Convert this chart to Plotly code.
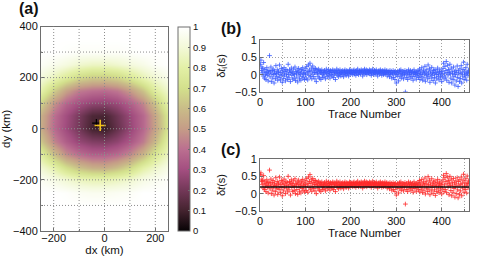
import plotly.graph_objects as go

# ---------------- data ----------------
# misfit map (panel a), read on a 50 km grid
grid_x = [-250, -200, -150, -100, -50, 0, 50, 100, 150, 200, 250]
grid_y = [400, 350, 300, 250, 200, 150, 100, 50, 0, -50, -100, -150, -200, -250, -300, -350, -400]
misfit = [
    [1.00, 1.00, 1.00, 1.00, 1.00, 1.00, 1.00, 1.00, 1.00, 1.00, 1.00],
    [1.00, 1.00, 1.00, 1.00, 1.00, 1.00, 1.00, 1.00, 1.00, 1.00, 1.00],
    [1.00, 1.00, 0.99, 0.98, 0.98, 0.98, 0.98, 0.99, 1.00, 1.00, 1.00],
    [0.98, 0.95, 0.92, 0.88, 0.86, 0.86, 0.88, 0.91, 0.94, 0.98, 1.00],
    [0.91, 0.84, 0.76, 0.68, 0.64, 0.64, 0.67, 0.74, 0.83, 0.89, 0.95],
    [0.81, 0.65, 0.52, 0.43, 0.40, 0.39, 0.42, 0.50, 0.62, 0.78, 0.88],
    [0.66, 0.48, 0.37, 0.30, 0.26, 0.25, 0.28, 0.35, 0.45, 0.62, 0.81],
    [0.56, 0.40, 0.30, 0.21, 0.12, 0.11, 0.19, 0.28, 0.38, 0.53, 0.74],
    [0.55, 0.39, 0.29, 0.20, 0.10, 0.08, 0.17, 0.27, 0.38, 0.52, 0.73],
    [0.63, 0.45, 0.35, 0.27, 0.23, 0.22, 0.26, 0.33, 0.43, 0.59, 0.80],
    [0.78, 0.61, 0.47, 0.40, 0.36, 0.36, 0.39, 0.46, 0.58, 0.74, 0.86],
    [0.89, 0.81, 0.70, 0.61, 0.56, 0.55, 0.60, 0.68, 0.80, 0.87, 0.94],
    [0.97, 0.93, 0.89, 0.85, 0.83, 0.83, 0.85, 0.88, 0.93, 0.96, 0.99],
    [1.00, 1.00, 0.99, 0.97, 0.96, 0.96, 0.97, 0.98, 1.00, 1.00, 1.00],
    [1.00, 1.00, 1.00, 1.00, 1.00, 1.00, 1.00, 1.00, 1.00, 1.00, 1.00],
    [1.00, 1.00, 1.00, 1.00, 1.00, 1.00, 1.00, 1.00, 1.00, 1.00, 1.00],
    [1.00, 1.00, 1.00, 1.00, 1.00, 1.00, 1.00, 1.00, 1.00, 1.00, 1.00],
]
best_black = (-32, 22)
best_yellow = (-17, 13)

ax_a_ticks = [-200, 0, 200]
ax_a_ticktext = ["\u2212200", "0", "200"]
ax_a_grid = [-200, -100, 0, 100, 200]
ay_a_ticks = [-400, -200, 0, 200, 400]
ay_a_ticktext = ["\u2212400", "\u2212200", "0", "200", "400"]
ay_a_grid = [-300, -200, -100, 0, 100, 200, 300]
cb_ticks = [0, 0.1, 0.2, 0.3, 0.4, 0.5, 0.6, 0.7, 0.8, 0.9, 1]
cb_ticktext = ["0", "0.1", "0.2", "0.3", "0.4", "0.5", "0.6", "0.7", "0.8", "0.9", "1"]

# panel b: delta t_i per trace
dt_i = [
    0.30, 0.42, 0.12, 0.22, 0.05, 0.18, -0.04, 0.35, 0.08, -0.10, 0.15, 0.00, -0.14, 0.06, 0.20, -0.02, 0.10, -0.18, 0.04, 0.12,
    0.55, -0.06, 0.08, 0.22, -0.20, 0.02, 0.12, -0.10, 0.16, 0.00, -0.24, 0.10, 0.04, -0.12, 0.26, 0.03, -0.05, 0.14, -0.16, 0.06,
    0.10, -0.08, 0.28, 0.00, -0.15, 0.07, 0.18, -0.03, -0.22, 0.13, 0.05, -0.11, 0.20, -0.01, 0.09, -0.18, 0.15, 0.02, -0.06, 0.11,
    -0.14, 0.30, 0.01, -0.09, 0.14, 0.06, -0.20, 0.10, 0.19, -0.02, 0.07, -0.13, 0.03, 0.16, -0.10, 0.00, 0.22, -0.17, 0.09, 0.04,
    -0.07, 0.13, -0.21, 0.06, 0.18, -0.01, -0.12, 0.10, 0.02, -0.16, 0.15, 0.07, -0.05, 0.20, -0.09, 0.03, 0.12, -0.14, 0.05, 0.00,
    0.17, -0.10, 0.24, 0.05, -0.15, 0.09, 0.28, -0.02, 0.13, 0.33, -0.06, 0.08, 0.19, -0.12, 0.02, 0.25, 0.11, -0.05, 0.16, 0.06,
    -0.12, 0.18, 0.06, -0.20, 0.14, 0.02, 0.10, -0.06, 0.16, 0.04, -0.10, 0.12, 0.08, -0.14, 0.06, 0.14, 0.00, -0.08, 0.10, 0.04,
    -0.04, 0.12, 0.06, -0.12, 0.08, 0.16, 0.02, -0.06, 0.10, 0.04, 0.14, -0.02, 0.08, -0.10, 0.12, 0.06, 0.00, 0.10, -0.04, 0.14,
    0.06, -0.08, 0.12, 0.02, 0.08, -0.14, 0.10, 0.04, 0.16, -0.02, 0.06, 0.12, -0.06, 0.08, 0.02, 0.14, 0.04, -0.04, 0.10, 0.06,
    0.00, 0.12, 0.08, -0.06, 0.04, 0.10, 0.14, 0.02, 0.06, -0.02, 0.12, 0.08, 0.04, 0.10, -0.04, 0.06, 0.14, 0.02, 0.08, 0.12,
    0.04, 0.10, 0.06, 0.00, 0.12, 0.08, 0.14, 0.02, 0.06, 0.10, -0.02, 0.08, 0.12, 0.04, 0.16, 0.06, 0.00, 0.10, 0.08, 0.12,
    0.02, 0.08, 0.14, 0.06, 0.10, -0.04, 0.12, 0.04, 0.08, 0.16, 0.02, 0.10, 0.06, 0.14, 0.00, 0.08, 0.12, 0.04, 0.10, 0.06,
    0.14, 0.02, 0.08, 0.12, -0.02, 0.06, 0.10, 0.16, 0.04, 0.08, 0.00, 0.12, 0.06, 0.10, 0.02, 0.14, 0.08, 0.04, -0.04, 0.10,
    0.06, 0.12, 0.02, 0.08, 0.14, 0.04, 0.10, -0.02, 0.06, 0.12, 0.08, 0.00, 0.10, 0.04, 0.14, 0.06, 0.02, 0.08, 0.12, -0.04,
    0.06, 0.10, 0.02, 0.08, -0.06, 0.12, 0.04, 0.00, 0.10, -0.10, 0.06, 0.02, 0.12, -0.08, 0.04, 0.08, -0.14, 0.10, 0.00, -0.24,
    0.06, -0.04, 0.10, 0.02, -0.18, 0.08, 0.12, -0.06, 0.04, 0.14, -0.10, 0.02, 0.08, -0.02, 0.10, -0.12, 0.06, 0.00, 0.12, -0.50,
    0.04, -0.08, 0.10, 0.02, -0.14, 0.08, 0.14, -0.04, 0.06, 0.00, 0.12, -0.10, 0.04, 0.08, -0.06, 0.10, -0.16, 0.02, 0.14, 0.06,
    -0.05, 0.07, 0.01, -0.13, 0.09, 0.04, -0.02, 0.12, -0.08, 0.05, 0.16, -0.14, 0.02, 0.10, -0.06, 0.20, 0.00, -0.16, 0.07, 0.13,
    -0.09, 0.04, 0.24, -0.19, 0.08, -0.03, 0.14, 0.01, -0.12, 0.28, 0.05, -0.06, 0.17, -0.22, 0.10, 0.02, -0.10, 0.21, -0.02, 0.06,
    -0.17, 0.12, 0.03, -0.08, 0.15, -0.24, 0.06, 0.00, -0.12, 0.10, 0.19, -0.05, 0.02, -0.15, 0.08, 0.14, -0.09, -0.01, 0.05, -0.20,
    0.09, -0.04, 0.18, 0.33, -0.12, 0.03, 0.24, -0.07, 0.12, 0.38, -0.16, 0.06, 0.27, -0.01, 0.15, -0.22, 0.07, 0.30, 0.02, -0.10,
    0.19, -0.24, 0.10, 0.03, -0.14, 0.22, -0.05, 0.08, -0.30, 0.00, 0.13, -0.18, 0.06, 0.25, -0.08, -0.34, 0.11, 0.02, -0.20, 0.17,
    -0.11, 0.04, 0.26, -0.24, 0.07, -0.04, 0.15, 0.36, -0.14, 0.01, 0.10, -0.07, 0.20, 0.03, -0.16, 0.30, 0.06, -0.02, 0.13, 0.08,
]

# panel c: delta t per trace
dt = [
    0.55, 0.60, 0.35, 0.42, 0.26, 0.38, 0.16, 0.52, 0.30, 0.12, 0.36, 0.22, 0.06, 0.28, 0.40, 0.18, 0.32, 0.02, 0.24, 0.34,
    0.68, 0.14, 0.28, 0.42, 0.00, 0.22, 0.32, 0.10, 0.38, 0.20, -0.04, 0.30, 0.25, 0.06, 0.46, 0.23, 0.15, 0.35, -0.02, 0.27,
    0.31, 0.12, 0.48, 0.21, 0.03, 0.28, 0.38, 0.17, -0.06, 0.34, 0.26, 0.08, 0.42, 0.19, 0.30, 0.00, 0.36, 0.24, 0.14, 0.32,
    0.05, 0.50, 0.22, 0.11, 0.35, 0.27, -0.04, 0.31, 0.40, 0.18, 0.29, 0.06, 0.24, 0.37, 0.09, 0.21, 0.43, 0.00, 0.30, 0.25,
    0.12, 0.34, -0.02, 0.27, 0.39, 0.19, 0.07, 0.31, 0.22, 0.02, 0.36, 0.28, 0.15, 0.41, 0.10, 0.24, 0.33, 0.05, 0.27, 0.20,
    0.37, 0.09, 0.44, 0.25, 0.04, 0.30, 0.48, 0.18, 0.35, 0.55, 0.13, 0.29, 0.40, 0.07, 0.22, 0.44, 0.32, 0.15, 0.37, 0.27,
    0.08, 0.38, 0.26, 0.00, 0.34, 0.22, 0.30, 0.14, 0.36, 0.24, 0.10, 0.32, 0.28, 0.06, 0.26, 0.34, 0.20, 0.12, 0.30, 0.24,
    0.16, 0.32, 0.26, 0.08, 0.28, 0.36, 0.22, 0.14, 0.30, 0.24, 0.34, 0.18, 0.28, 0.10, 0.32, 0.26, 0.20, 0.30, 0.16, 0.34,
    0.26, 0.12, 0.32, 0.22, 0.28, 0.06, 0.30, 0.24, 0.36, 0.18, 0.26, 0.32, 0.14, 0.28, 0.22, 0.34, 0.24, 0.16, 0.30, 0.26,
    0.20, 0.32, 0.28, 0.14, 0.24, 0.30, 0.34, 0.22, 0.26, 0.18, 0.32, 0.28, 0.24, 0.30, 0.16, 0.26, 0.34, 0.22, 0.28, 0.32,
    0.24, 0.30, 0.26, 0.20, 0.32, 0.28, 0.34, 0.22, 0.26, 0.30, 0.18, 0.28, 0.32, 0.24, 0.36, 0.26, 0.20, 0.30, 0.28, 0.32,
    0.22, 0.28, 0.34, 0.26, 0.30, 0.16, 0.32, 0.24, 0.28, 0.36, 0.22, 0.30, 0.26, 0.34, 0.20, 0.28, 0.32, 0.24, 0.30, 0.26,
    0.34, 0.22, 0.28, 0.32, 0.18, 0.26, 0.30, 0.36, 0.24, 0.28, 0.20, 0.32, 0.26, 0.30, 0.22, 0.34, 0.28, 0.24, 0.16, 0.30,
    0.26, 0.32, 0.22, 0.28, 0.34, 0.24, 0.30, 0.18, 0.26, 0.32, 0.28, 0.20, 0.30, 0.24, 0.34, 0.26, 0.22, 0.28, 0.32, 0.16,
    0.26, 0.30, 0.22, 0.28, 0.14, 0.32, 0.24, 0.20, 0.30, 0.10, 0.26, 0.22, 0.32, 0.12, 0.24, 0.28, 0.06, 0.30, 0.20, -0.04,
    0.26, 0.16, 0.30, 0.22, 0.02, 0.28, 0.32, 0.14, 0.24, 0.34, 0.10, 0.22, 0.28, 0.18, 0.30, 0.08, 0.26, 0.20, 0.32, -0.30,
    0.24, 0.12, 0.30, 0.22, 0.06, 0.28, 0.34, 0.16, 0.26, 0.20, 0.32, 0.10, 0.24, 0.28, 0.14, 0.30, 0.04, 0.22, 0.34, 0.26,
    0.15, 0.28, 0.22, 0.07, 0.30, 0.25, 0.18, 0.33, 0.11, 0.26, 0.38, 0.05, 0.23, 0.31, 0.13, 0.41, 0.20, 0.03, 0.28, 0.34,
    0.10, 0.25, 0.45, -0.01, 0.30, 0.16, 0.36, 0.21, 0.06, 0.49, 0.26, 0.13, 0.39, -0.03, 0.31, 0.23, 0.08, 0.43, 0.18, 0.28,
    0.01, 0.34, 0.24, 0.11, 0.37, -0.05, 0.28, 0.21, 0.06, 0.32, 0.41, 0.14, 0.23, 0.03, 0.29, 0.36, 0.10, 0.20, 0.26, -0.01,
    0.31, 0.16, 0.40, 0.53, 0.06, 0.25, 0.46, 0.12, 0.35, 0.58, 0.03, 0.28, 0.48, 0.19, 0.38, -0.03, 0.30, 0.50, 0.23, 0.09,
    0.42, -0.06, 0.33, 0.25, 0.04, 0.44, 0.15, 0.31, -0.10, 0.21, 0.37, 0.00, 0.28, 0.46, 0.11, -0.12, 0.35, 0.23, -0.02, 0.40,
    0.08, 0.27, 0.48, -0.06, 0.30, 0.16, 0.39, 0.56, 0.04, 0.22, 0.33, 0.12, 0.43, 0.25, 0.02, 0.51, 0.29, 0.17, 0.37, 0.30,
]
mean_dt = 0.19
trace_no = list(range(1, len(dt_i) + 1))

tr_ticks = [0, 100, 200, 300, 400]
tr_ticktext = ["0", "100", "200", "300", "400"]
dt_ticks = [-0.5, 0, 0.5, 1]
dt_ticktext = ["\u22120.5", "0", "0.5", "1"]

# ---------------- styling ----------------
FONT = "Liberation Sans, Arial, Helvetica, sans-serif"
AXC = "#6e6e6e"
GRIDC = "#a0a0a0"
DOT = "1px,2px"

colorscale = [
    [0.0, "#070305"], [0.1, "#44232f"], [0.2, "#733858"], [0.3, "#a34e80"],
    [0.4, "#bb6f90"], [0.5, "#c59c87"], [0.6, "#c9bc88"], [0.7, "#d3e08c"],
    [0.8, "#e3f0a6"], [0.9, "#f3f9d8"], [1.0, "#ffffff"],
]

fig = go.Figure()

fig.add_trace(go.Heatmap(
    x=grid_x, y=grid_y, z=misfit, zmin=0, zmax=1, zsmooth="best",
    colorscale=colorscale, xaxis="x", yaxis="y",
    colorbar=dict(
        x=178 / 480, xanchor="left", y=27 / 258, yanchor="bottom",
        len=204, lenmode="pixels",
        thickness=12, thicknessmode="pixels", xpad=0, ypad=0,
        outlinewidth=1, outlinecolor=AXC,
        tickvals=cb_ticks, ticktext=cb_ticktext, ticks="inside", ticklen=2,
        tickcolor=AXC, tickfont=dict(size=9.5, family=FONT, color="#111"),
    ),
    showscale=True,
))

fig.add_trace(go.Scatter(
    x=[best_black[0]], y=[best_black[1]], mode="markers", xaxis="x", yaxis="y",
    marker=dict(symbol="cross-thin", size=6, line=dict(color="black", width=1.2)),
    showlegend=False,
))
fig.add_trace(go.Scatter(
    x=[best_yellow[0]], y=[best_yellow[1]], mode="markers", xaxis="x", yaxis="y",
    marker=dict(symbol="cross-thin", size=8, line=dict(color="#f2c21a", width=1.6)),
    showlegend=False,
))

fig.add_trace(go.Scatter(
    x=trace_no, y=dt_i, mode="markers", xaxis="x2", yaxis="y2",
    marker=dict(symbol="cross-thin", size=3.4, line=dict(color="#3a5cff", width=0.8)),
    showlegend=False,
))
fig.add_trace(go.Scatter(
    x=trace_no, y=dt, mode="markers", xaxis="x3", yaxis="y3",
    marker=dict(symbol="cross-thin", size=3.4, line=dict(color="#ff2a2a", width=0.8)),
    showlegend=False,
))

common = dict(
    showline=True, mirror=True, linecolor=AXC, linewidth=1, automargin=False,
    ticks="inside", ticklen=3, tickcolor=AXC, zeroline=False,
    tickfont=dict(size=11, family=FONT, color="#111"),
)

fig.update_layout(
    width=480, height=258,
    margin=dict(l=0, r=0, t=0, b=0, pad=0, autoexpand=False),
    paper_bgcolor="white", plot_bgcolor="white",
    font=dict(family=FONT, color="#111"),
    showlegend=False,
    xaxis=dict(domain=[41 / 480, 168 / 480], range=[-250, 250],
               tickvals=ax_a_ticks, ticktext=ax_a_ticktext, showgrid=False,
               minor=dict(dtick=100, tick0=0, ticks="inside", ticklen=2, tickcolor=AXC, showgrid=False),
               ticklabelstandoff=-3,
               title=dict(text="dx (km)", font=dict(size=11.5, family=FONT), standoff=0),
               anchor="y", **common),
    yaxis=dict(domain=[27 / 258, 231.5 / 258], range=[-400, 400],
               tickvals=ay_a_ticks, ticktext=ay_a_ticktext, showgrid=False,
               minor=dict(dtick=100, tick0=0, ticks="inside", ticklen=2, tickcolor=AXC, showgrid=False),
               title=dict(text="dy (km)", font=dict(size=11.5, family=FONT), standoff=4),
               anchor="x", **common),
    xaxis2=dict(domain=[260 / 480, 469 / 480], range=[0, 460],
                tickvals=tr_ticks, ticktext=tr_ticktext,
                showgrid=True, gridcolor=GRIDC, griddash=DOT, gridwidth=1,
                minor=dict(dtick=50, tick0=0, ticks="inside", ticklen=2, tickcolor=AXC,
                           showgrid=True, gridcolor=GRIDC, griddash=DOT, gridwidth=1),
                title=dict(text="Trace Number", font=dict(size=11.5, family=FONT), standoff=1),
                anchor="y2", **common),
    yaxis2=dict(domain=[(258 - 92) / 258, (258 - 40) / 258], range=[-0.5, 1],
                tickvals=dt_ticks, ticktext=dt_ticktext,
                showgrid=True, gridcolor=GRIDC, griddash=DOT, gridwidth=1,
                title=dict(text="\u03b4<i>t</i><sub>i</sub>(s)", font=dict(size=11, family=FONT), standoff=7),
                anchor="x2", **common),
    xaxis3=dict(domain=[260 / 480, 469 / 480], range=[0, 460],
                tickvals=tr_ticks, ticktext=tr_ticktext,
                showgrid=True, gridcolor=GRIDC, griddash=DOT, gridwidth=1,
                minor=dict(dtick=50, tick0=0, ticks="inside", ticklen=2, tickcolor=AXC,
                           showgrid=True, gridcolor=GRIDC, griddash=DOT, gridwidth=1),
                title=dict(text="Trace Number", font=dict(size=11.5, family=FONT), standoff=1),
                anchor="y3", **common),
    yaxis3=dict(domain=[(258 - 211) / 258, (258 - 159) / 258], range=[-0.5, 1],
                tickvals=dt_ticks, ticktext=dt_ticktext,
                showgrid=True, gridcolor=GRIDC, griddash=DOT, gridwidth=1,
                title=dict(text="\u03b4<i>t</i>(s)", font=dict(size=11, family=FONT), standoff=7),
                anchor="x3", **common),
)

# dotted grid drawn over the map (as MATLAB does)
for v in ax_a_grid:
    fig.add_shape(type="line", xref="x", yref="y domain", x0=v, x1=v, y0=0, y1=1,
                  line=dict(color="#8c8c8c", width=1, dash=DOT), layer="above")
for v in ay_a_grid:
    fig.add_shape(type="line", xref="x domain", yref="y", x0=0, x1=1, y0=v, y1=v,
                  line=dict(color="#8c8c8c", width=1, dash=DOT), layer="above")

# mean line in panel c
fig.add_shape(type="line", xref="x3 domain", yref="y3", x0=0, x1=1, y0=mean_dt, y1=mean_dt,
              line=dict(color="#111", width=1.5), layer="above")

for txt, px, py in [("(a)", 17, 9), ("(b)", 219, 29), ("(c)", 219, 150)]:
    fig.add_annotation(text=f"<b>{txt}</b>", xref="paper", yref="paper",
                       x=px / 480, y=(258 - py) / 258, xanchor="left", yanchor="middle",
                       showarrow=False, font=dict(size=16, family=FONT, color="#111"))

fig.write_html("out.html", config={"displayModeBar": False},
               post_script="document.body.style.margin='0px';")
